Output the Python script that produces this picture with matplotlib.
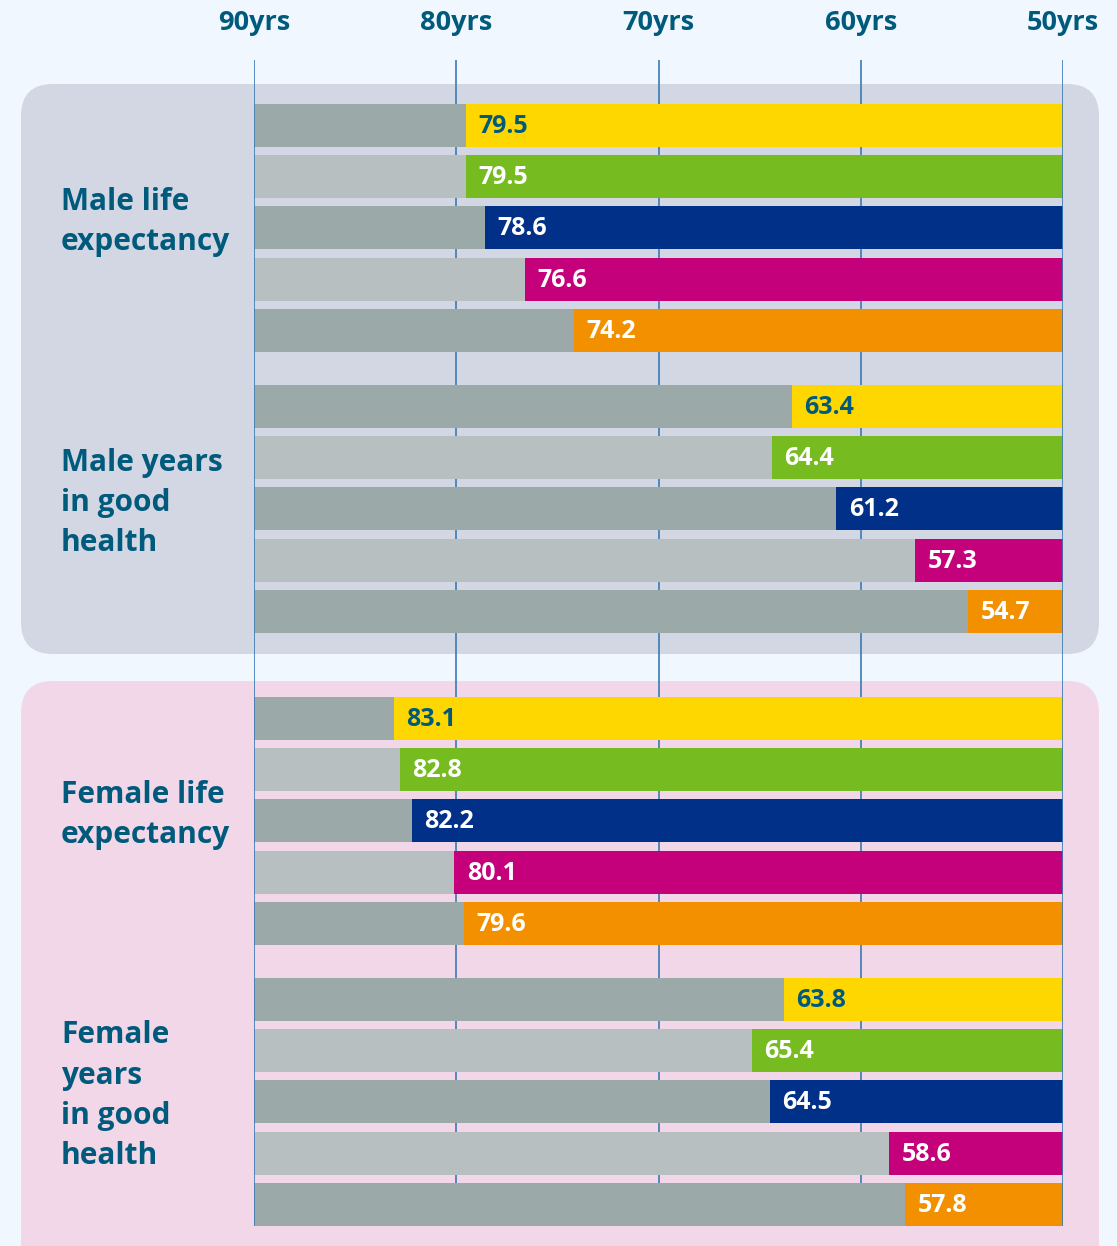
import matplotlib
matplotlib.use("Agg")
from matplotlib import pyplot as plt
from matplotlib.patches import FancyBboxPatch

plt.rcParams['font.family'] = ['Open Sans', 'DejaVu Sans']

# data
group_labels = ["Male life\nexpectancy", "Male years\nin good\nhealth",
                "Female life\nexpectancy", "Female\nyears\nin good\nhealth"]
male_le = [79.5, 79.5, 78.6, 76.6, 74.2]
male_hle = [63.4, 64.4, 61.2, 57.3, 54.7]
female_le = [83.1, 82.8, 82.2, 80.1, 79.6]
female_hle = [63.8, 65.4, 64.5, 58.6, 57.8]
groups = [male_le, male_hle, female_le, female_hle]
ticks = [90, 80, 70, 60, 50]
tick_labels = ["90yrs", "80yrs", "70yrs", "60yrs", "50yrs"]

bar_colors = ["#FFD700", "#76BC21", "#003087", "#C4007A", "#F39000"]
text_colors = ["#005A7C", "white", "white", "white", "white"]
greys = ["#9BAAA9", "#B8BFC1"]
navy_text = "#005A7C"
line_col = "#3A7AB5"

W, H = 1117, 1246
fig = plt.figure(figsize=(W / 100, H / 100), dpi=100)
fig.patch.set_facecolor("#F0F7FF")

# background layer in pixel coordinates
bg = fig.add_axes([0, 0, 1, 1])
bg.set_xlim(0, W)
bg.set_ylim(H, 0)
bg.axis("off")
bg.add_patch(FancyBboxPatch((21, 84), 1078, 570, boxstyle="round,pad=0,rounding_size=32",
                            fc="#D3D7E3", ec="none"))
bg.add_patch(FancyBboxPatch((21, 681), 1078, 620, boxstyle="round,pad=0,rounding_size=32",
                            fc="#F2D7E9", ec="none"))

# main chart axes: x in years, y in pixels from top
x0, x1 = 254, 1063
ax = fig.add_axes([x0 / W, 0, (x1 - x0) / W, 1])
ax.set_xlim(90, 50)
ax.set_ylim(H, 0)
ax.axis("off")
ax.patch.set_alpha(0)

group_tops = [104, 385, 697, 978]
pitch = 51.2
bar_h = 43

ax.vlines(ticks[1:-1], 60, 1226, color=line_col, lw=1.2, zorder=0)
ax.vlines([ticks[0], ticks[-1]], 60, 1226, color=line_col, lw=1.2, zorder=3)

for g, vals in enumerate(groups):
    centers = [group_tops[g] + i * pitch + bar_h / 2 for i in range(len(vals))]
    for i, v in enumerate(vals):
        ax.barh(centers[i], 90 - v, left=v, height=bar_h, color=greys[i % 2], zorder=1)
        ax.barh(centers[i], v - 50, left=50, height=bar_h, color=bar_colors[i], zorder=2)
        ax.annotate(f"{v:.1f}", (v, centers[i] + 1), xytext=(9, 0), textcoords="offset points",
                    ha="left", va="center", fontsize=18, fontweight="bold",
                    color=text_colors[i], zorder=4)
    mid = (centers[0] + centers[-1]) / 2 - 6
    bg.text(61, mid, group_labels[g], ha="left", va="center", fontsize=21.5,
            fontweight="bold", color=navy_text, linespacing=1.45)

for t, lab in zip(ticks, tick_labels):
    ax.text(t, 23, lab, ha="center", va="center", fontsize=19.5, fontweight="bold",
            color=navy_text, clip_on=False)

fig.savefig("out.png", dpi=100, facecolor=fig.get_facecolor())
